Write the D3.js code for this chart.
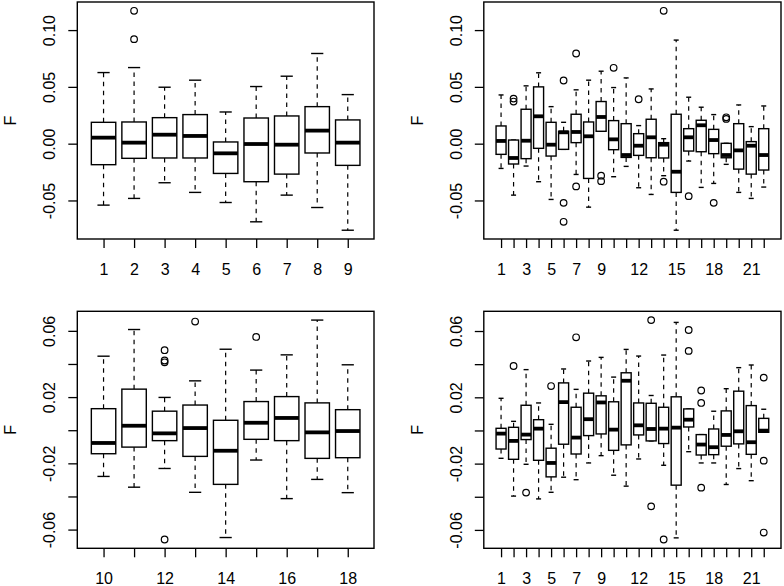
<!DOCTYPE html>
<html>
<head>
<meta charset="utf-8">
<script src="https://cdn.jsdelivr.net/npm/d3@7"></script>
<style>
  html, body { margin: 0; padding: 0; background: #fff; }
  svg { display: block; }
  text { font-family: "Liberation Sans", Arial, Helvetica, sans-serif; fill: #000; }
</style>
</head>
<body>
<svg id="chart" width="784" height="586"></svg>
<script>
// ---------- DATA (boxplot stats: [lower whisker, Q1, median, Q3, upper whisker]) ----------
const cats1 = [1, 2, 3, 4, 5, 6, 7, 8, 9];
const stats1 = [
  [-0.0541, -0.0185, 0.0053, 0.0188, 0.0626],
  [-0.0482, -0.0129, 0.0009, 0.0191, 0.0670],
  [-0.0344, -0.0126, 0.0079, 0.0229, 0.0497],
  [-0.0429, -0.0126, 0.0068, 0.0256, 0.0559],
  [-0.0518, -0.0262, -0.0085, 0.0015, 0.0279],
  [-0.0688, -0.0335, -0.0003, 0.0226, 0.0503],
  [-0.0453, -0.0268, -0.0009, 0.0244, 0.0594],
  [-0.0562, -0.0082, 0.0115, 0.0326, 0.0794],
  [-0.0762, -0.0191, 0.0009, 0.0209, 0.0432]
];
const outliers1 = [[2, 0.092], [2, 0.117]];
const xLabels1 = {1: "1", 2: "2", 3: "3", 4: "4", 5: "5", 6: "6", 7: "7", 8: "8", 9: "9"};

const cats2 = d3.range(1, 23);
const stats2 = [
  [-0.0218, -0.0094, 0.0024, 0.0156, 0.0429],
  [-0.0453, -0.0179, -0.0126, 0.0032, 0.0032],
  [-0.0197, -0.0132, 0.0026, 0.0303, 0.0509],
  [-0.0335, -0.0041, 0.0241, 0.0500, 0.0624],
  [-0.0491, -0.0109, -0.0009, 0.0188, 0.0326],
  [-0.0050, -0.0050, 0.0100, 0.0109, 0.0188],
  [-0.0271, 0.0009, 0.0103, 0.0259, 0.0474],
  [-0.0559, -0.0306, 0.0065, 0.0191, 0.0559],
  [0.0109, 0.0109, 0.0235, 0.0371, 0.0638],
  [-0.0291, -0.0053, 0.0038, 0.0203, 0.0494],
  [-0.0200, -0.0121, -0.0100, 0.0176, 0.0579],
  [-0.0388, -0.0103, -0.0018, 0.0088, 0.0159],
  [-0.0447, -0.0124, 0.0056, 0.0215, 0.0482],
  [-0.0282, -0.0126, -0.0009, 0.0009, 0.0044],
  [-0.0762, -0.0429, -0.0247, 0.0259, 0.0912],
  [-0.0153, -0.0065, 0.0056, 0.0132, 0.0409],
  [-0.0385, -0.0071, 0.0162, 0.0206, 0.0321],
  [-0.0350, -0.0088, 0.0032, 0.0126, 0.0256],
  [-0.0182, -0.0124, -0.0100, 0.0003, 0.0003],
  [-0.0429, -0.0224, -0.0059, 0.0176, 0.0341],
  [-0.0482, -0.0268, -0.0018, 0.0018, 0.0150],
  [-0.0382, -0.0232, -0.0100, 0.0132, 0.0332]
];
const outliers2 = [
  [2, 0.0397], [2, 0.0371], [6, 0.0556], [6, -0.0521], [6, -0.0688],
  [7, 0.0794], [7, -0.0376], [9, -0.0282], [9, -0.0330], [10, 0.0668],
  [12, 0.0391], [14, 0.117], [14, -0.0335], [16, -0.0462], [18, -0.0521],
  [19, 0.0232], [19, 0.0218]
];
const xLabels2 = {1: "1", 3: "3", 5: "5", 7: "7", 9: "9", 12: "12", 15: "15", 18: "18", 21: "21"};

const cats3 = [10, 11, 12, 13, 14, 15, 16, 17, 18];
const stats3 = [
  [-0.0279, -0.0142, -0.0077, 0.0130, 0.0447],
  [-0.0344, -0.0102, 0.0027, 0.0248, 0.0608],
  [-0.0231, -0.0063, -0.0019, 0.0115, 0.0198],
  [-0.0375, -0.0158, 0.0013, 0.0152, 0.0298],
  [-0.0648, -0.0327, -0.0124, 0.0060, 0.0489],
  [-0.0180, -0.0055, 0.0045, 0.0173, 0.0363],
  [-0.0413, -0.0063, 0.0074, 0.0203, 0.0455],
  [-0.0297, -0.0170, -0.0013, 0.0165, 0.0665],
  [-0.0377, -0.0166, -0.0005, 0.0124, 0.0395]
];
const outliers3 = [[12, 0.0483], [12, 0.0421], [12, 0.0410], [12, -0.0660], [13, 0.0656], [15, 0.0563]];
const xLabels3 = {10: "10", 12: "12", 14: "14", 16: "16", 18: "18"};

const cats4 = d3.range(1, 23);
const stats4 = [
  [-0.0168, -0.0112, -0.0019, 0.0013, 0.0194],
  [-0.0396, -0.0174, -0.0063, 0.0019, 0.0055],
  [-0.0204, -0.0055, -0.0025, 0.0152, 0.0367],
  [-0.0413, -0.0180, 0.0011, 0.0065, 0.0166],
  [-0.0373, -0.0280, -0.0196, -0.0107, 0.0037],
  [-0.0282, -0.0083, 0.0171, 0.0287, 0.0371],
  [-0.0297, -0.0142, -0.0043, 0.0140, 0.0248],
  [-0.0196, -0.0031, 0.0068, 0.0225, 0.0419],
  [-0.0152, -0.0021, 0.0169, 0.0209, 0.0441],
  [-0.0270, -0.0120, 0.0005, 0.0173, 0.0322],
  [-0.0336, -0.0087, 0.0300, 0.0348, 0.0489],
  [-0.0172, -0.0027, 0.0031, 0.0166, 0.0449],
  [-0.0063, -0.0063, 0.0009, 0.0164, 0.0211],
  [-0.0210, -0.0079, 0.0011, 0.0140, 0.0455],
  [-0.0648, -0.0330, 0.0017, 0.0203, 0.0652],
  [-0.0128, 0.0021, 0.0065, 0.0130, 0.0130],
  [-0.0196, -0.0148, -0.0085, -0.0025, -0.0025],
  [-0.0196, -0.0146, -0.0101, 0.0009, 0.0116],
  [-0.0326, -0.0095, -0.0027, 0.0118, 0.0252],
  [-0.0230, -0.0081, -0.0005, 0.0237, 0.0379],
  [-0.0303, -0.0144, -0.0071, 0.0150, 0.0395],
  [-0.0011, -0.0011, -0.0001, 0.0073, 0.0128]
];
const outliers4 = [
  [2, 0.0389], [3, -0.0375], [5, 0.0268], [7, 0.0562], [13, 0.0666], [13, -0.0458],
  [14, -0.0658], [16, 0.0606], [16, 0.0480], [17, 0.0241], [17, 0.0166], [17, -0.0345],
  [22, 0.0319], [22, -0.0182], [22, -0.0616]
];
const xLabels4 = {1: "1", 3: "3", 5: "5", 7: "7", 9: "9", 12: "12", 15: "15", 18: "18", 21: "21"};

const yTicksTop = [-0.05, 0.00, 0.05, 0.10];
const yLabelsTop = {"-0.05": "-0.05", "0": "0.00", "0.05": "0.05", "0.1": "0.10"};
const yTicksBottom = [-0.06, -0.04, -0.02, 0.00, 0.02, 0.04, 0.06];
const yLabelsBottom = {"-0.06": "-0.06", "-0.02": "-0.02", "0.02": "0.02", "0.06": "0.06"};
const yTitle = "F";

// ---------- LAYOUT ----------
const svg = d3.select("#chart");
const FONT = 16;

const panels = [
  {cats: cats1, stats: stats1, outs: outliers1, xl: xLabels1, yt: yTicksTop, yl: yLabelsTop,
   left: 77.3, right: 374, top: 2, bottom: 239},
  {cats: cats2, stats: stats2, outs: outliers2, xl: xLabels2, yt: yTicksTop, yl: yLabelsTop,
   left: 483.8, right: 781, top: 2, bottom: 239},
  {cats: cats3, stats: stats3, outs: outliers3, xl: xLabels3, yt: yTicksBottom, yl: yLabelsBottom,
   left: 77.3, right: 374, top: 311.3, bottom: 548.3},
  {cats: cats4, stats: stats4, outs: outliers4, xl: xLabels4, yt: yTicksBottom, yl: yLabelsBottom,
   left: 483.8, right: 781, top: 311.3, bottom: 548.3}
];

panels.forEach(p => {
  const n = p.cats.length;
  // R-style limits: 4% extension
  const xlo = 0.5, xhi = n + 0.5, xext = 0.04 * (xhi - xlo);
  const x = d3.scaleLinear().domain([xlo - xext, xhi + xext]).range([p.left, p.right]);

  const allVals = [];
  p.stats.forEach(s => allVals.push(...s));
  p.outs.forEach(o => allVals.push(o[1]));
  const [ymn, ymx] = d3.extent(allVals);
  const yext = 0.04 * (ymx - ymn);
  const y = d3.scaleLinear().domain([ymn - yext, ymx + yext]).range([p.bottom, p.top]);

  const g = svg.append("g");
  const bw = x(1.4) - x(1.0);  // half box width (boxwex 0.8)
  const sw = bw / 2;           // half staple width

  const boxes = g.selectAll("g.box").data(p.stats).enter().append("g").attr("class", "box");
  boxes.each(function(s, i) {
    const gx = d3.select(this);
    const cx = x(i + 1);
    // whiskers (dashed)
    gx.append("line").attr("x1", cx).attr("x2", cx).attr("y1", y(s[3])).attr("y2", y(s[4]))
      .attr("stroke", "#000").attr("stroke-width", 1.2).attr("stroke-dasharray", "4.5,4.5");
    gx.append("line").attr("x1", cx).attr("x2", cx).attr("y1", y(s[1])).attr("y2", y(s[0]))
      .attr("stroke", "#000").attr("stroke-width", 1.2).attr("stroke-dasharray", "4.5,4.5");
    // staples
    [s[0], s[4]].forEach(v => {
      gx.append("line").attr("x1", cx - sw).attr("x2", cx + sw).attr("y1", y(v)).attr("y2", y(v))
        .attr("stroke", "#000").attr("stroke-width", 1.4);
    });
    // box
    gx.append("rect").attr("x", cx - bw).attr("width", 2 * bw)
      .attr("y", y(s[3])).attr("height", Math.max(0, y(s[1]) - y(s[3])))
      .attr("fill", "#fff").attr("stroke", "#000").attr("stroke-width", 1.4);
    // median
    gx.append("line").attr("x1", cx - bw).attr("x2", cx + bw).attr("y1", y(s[2])).attr("y2", y(s[2]))
      .attr("stroke", "#000").attr("stroke-width", 3.8);
  });

  // outliers
  g.selectAll("circle.out").data(p.outs).enter().append("circle")
    .attr("class", "out")
    .attr("cx", d => x(d[0] - p.cats[0] + 1)).attr("cy", d => y(d[1]))
    .attr("r", 3.3).attr("fill", "none").attr("stroke", "#000").attr("stroke-width", 1.2);

  // frame
  g.append("rect").attr("x", p.left).attr("y", p.top)
    .attr("width", p.right - p.left).attr("height", p.bottom - p.top)
    .attr("fill", "none").attr("stroke", "#000").attr("stroke-width", 1.4);

  // x axis
  const xa = d3.axisBottom(x)
    .tickValues(d3.range(1, n + 1))
    .tickSize(9).tickPadding(0)
    .tickFormat(v => p.xl[p.cats[v - 1]] !== undefined ? p.xl[p.cats[v - 1]] : "");
  const gxa = g.append("g").attr("transform", `translate(0,${p.bottom})`).call(xa);
  gxa.select(".domain").remove();
  gxa.selectAll(".tick line").attr("stroke", "#000").attr("stroke-width", 1.3);
  gxa.selectAll(".tick text").attr("y", 35.5).attr("dy", null)
    .style("font-size", FONT + "px").style("font-family", "'Liberation Sans', Arial, sans-serif");

  // y axis
  const ya = d3.axisLeft(y)
    .tickValues(p.yt).tickSize(9).tickPadding(0)
    .tickFormat(v => { const k = String(+v.toFixed(2)); return p.yl[k] !== undefined ? p.yl[k] : ""; });
  const gya = g.append("g").attr("transform", `translate(${p.left},0)`).call(ya);
  gya.select(".domain").remove();
  gya.selectAll(".tick line").attr("stroke", "#000").attr("stroke-width", 1.3);
  gya.selectAll(".tick text")
    .attr("x", null).attr("dy", "0.36em")
    .attr("transform", "translate(-28,0) rotate(-90)")
    .attr("text-anchor", "middle")
    .style("font-size", FONT + "px").style("font-family", "'Liberation Sans', Arial, sans-serif");

  // y title
  g.append("text")
    .attr("transform", `translate(${p.left - 67},${(p.top + p.bottom) / 2}) rotate(-90)`)
    .attr("dy", "0.36em").attr("text-anchor", "middle")
    .style("font-size", FONT + "px")
    .text(yTitle);
});
</script>
</body>
</html>
